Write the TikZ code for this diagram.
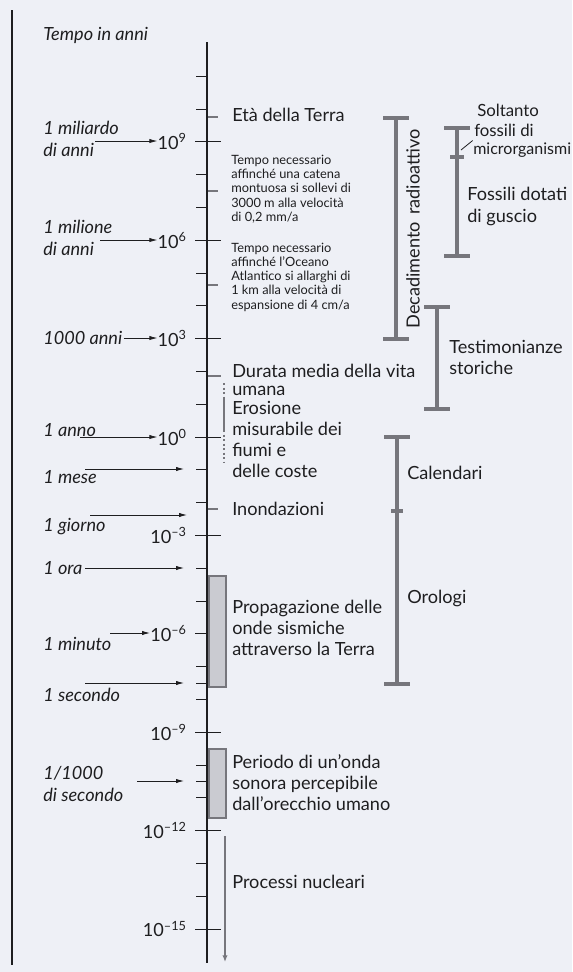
\documentclass[tikz,border=0pt]{standalone}
\usepackage{fontspec}
\setmainfont{Lato}
\usetikzlibrary{arrows.meta}

\definecolor{paper}{RGB}{238,240,246}
\definecolor{ink}{RGB}{30,30,32}
\definecolor{bar}{RGB}{118,118,124}
\definecolor{stipple}{RGB}{202,203,209}

\tikzset{
        txt/.style={anchor=west, inner sep=0pt, align=left, text=ink,
                font=\fontsize{13.6}{15.75}\selectfont},
        smalltxt/.style={anchor=west, inner sep=0pt, align=left, text=ink,
                font=\fontsize{9.6}{10.7}\selectfont},
        unit/.style={anchor=west, inner sep=0pt, align=left, text=ink,
                font=\fontsize{13.6}{16}\selectfont\itshape},
        pow/.style={anchor=east, inner sep=0pt, text=ink,
                font=\fontsize{13.6}{14}\selectfont},
        pointer/.style={draw=ink, line width=0.6pt, -{Latex[length=6pt,width=3.2pt]}},
        tick/.style={draw=ink, line width=0.75pt},
        gtick/.style={draw=bar, line width=1.5pt},
        span/.style={draw=bar, line width=2.3pt},
        band/.style={draw=bar, fill=stipple, line width=1.5pt},
}

\begin{document}
\begin{tikzpicture}[x=0.75pt, y=-0.75pt]
        \fill[paper] (0,0) rectangle (572,972);
        \draw[ink, line width=1pt] (12,10) -- (12,965);

        % asse dei tempi
        \draw[ink, line width=1.1pt] (207,42) -- (207,963);
        \foreach \e in {11,10,8,7,5,4,2,1,-1,-2,-4,-5,-7,-8,-10,-11,-13,-14}
                \draw[tick] (196,{437-32.8*\e}) -- (207,{437-32.8*\e});
        \foreach \e/\s/\n in {9/9/p9, 6/6/p6, 3/3/p3, 0/0/p0, -3/{–3}/pm3, -6/{–6}/pm6, -9/{–9}/pm9, -12/{–12}/pm12, -15/{–15}/pm15} {
                \draw[tick] (195,{437-32.8*\e}) -- (221,{437-32.8*\e});
                \node[pow] (\n) at (187,{437-32.8*\e}) {10\textsuperscript{\s}};
        }
        \draw[tick] (196,683) -- (207,683);
        \draw[tick] (196,781) -- (207,781);

        % unita di misura
        \node[unit] (tempo) at (43,35) {Tempo in anni};
        \node[unit] (mil) at (43,139) {1 miliardo\\di anni};
        \node[unit] (mln) at (43,238) {1 milione\\di anni};
        \node[unit] (mille) at (43,338) {1000 anni};
        \node[unit] (anno) at (43,430) {1 anno};
        \node[unit] (mese) at (43,477) {1 mese};
        \node[unit] (giorno) at (43,527) {1 giorno};
        \node[unit] (ora) at (43,568) {1 ora};
        \node[unit] (minuto) at (43,644) {1 minuto};
        \node[unit] (secondo) at (43,695) {1 secondo};
        \node[unit] (msec) at (43,784) {1/1000\\di secondo};

        \coordinate (amil) at (95,141);
        \coordinate (amln) at (100,240);
        \coordinate (aanno) at (80,437);
        \coordinate (amese) at (85,469);
        \coordinate (tmese) at (184,469);
        \coordinate (agiorno) at (90,515);
        \coordinate (tgiorno) at (187,515);
        \coordinate (tora) at (184,568);
        \coordinate (aminuto) at (110,633);
        \coordinate (asec) at (85,683);
        \coordinate (tsec) at (184,683);
        \coordinate (amsec) at (137,781);
        \coordinate (tmsec) at (184,781);

        \draw[pointer] (amil) -- (amil -| p9.west);
        \draw[pointer] (amln) -- (amln -| p6.west);
        \draw[pointer] ([xshift=1pt]mille.east) -- (mille.east -| p3.west);
        \draw[pointer] (aanno) -- (aanno -| p0.west);
        \draw[pointer] (amese) -- (tmese);
        \draw[pointer] (agiorno) -- (tgiorno);
        \draw[pointer] ([xshift=2pt]ora.east |- tora) -- (tora);
        \draw[pointer] (aminuto) -- (aminuto -| pm6.west);
        \draw[pointer] (asec) -- (tsec);
        \draw[pointer] (amsec) -- (tmsec);

        % fenomeni
        \node[txt] (eta) at (232,115) {Età della Terra};
        \node[smalltxt] (monti) at (231,189) {Tempo necessario\\affinché una catena\\montuosa si sollevi di\\3000 m alla velocità\\di 0,2 mm/a};
        \node[smalltxt] (oceano) at (231,277) {Tempo necessario\\affinché l’Oceano\\Atlantico si allarghi di\\1 km alla velocità di\\espansione di 4 cm/a};
        \node[txt, font=\fontsize{13.6}{13.6}\selectfont] (vita) at (232,380) {Durata media della vita\\umana};
        \node[txt] (erosione) at (232,439) {Erosione\\misurabile dei\\fiumi e\\delle coste};
        \node[txt] (inond) at (232,509) {Inondazioni};
        \node[txt] (onde) at (232,628) {Propagazione delle\\onde sismiche\\attraverso la Terra};
        \node[txt] (suono) at (232,783) {Periodo di un’onda\\sonora percepibile\\dall’orecchio umano};
        \node[txt] (nucl) at (232,882) {Processi nucleari};

        \draw[gtick] (208,117) -- (218,117);
        \draw[gtick] (208,191) -- (218,191);
        \draw[gtick] (208,285) -- (218,285);
        \draw[gtick] (208,376) -- (221,376);
        \draw[gtick] (208,509) -- (218,509);

        \draw[bar, line width=2.2pt, dash pattern=on 1.6pt off 1.8pt] (224,383) -- (224,397);
        \draw[bar, line width=2.2pt] (224,397) -- (224,430);
        \draw[bar, line width=2.2pt, dash pattern=on 1.6pt off 1.8pt] (224,430) -- (224,463);

        \draw[band] (209,576) rectangle (226,687);
        \draw[band] (209,749) rectangle (226,818);

        \coordinate (ntop) at (225,836);
        \coordinate (nbot) at (225,962);
        \draw[bar, line width=2pt, -{Latex[length=5pt,width=4pt]}] (ntop) -- (nbot);

        % metodi di datazione
        \foreach \n/\x/\a/\b in {dec/396/118/339, fos/457/128/256, sto/437/307/409, cal/397/437/684} {
                \coordinate (\n top) at (\x,\a);
                \coordinate (\n bot) at (\x,\b);
                \draw[span] (\n top) -- (\n bot);
                \draw[span] ([xshift=-9.5pt]\n top) -- ([xshift=9.5pt]\n top);
                \draw[span] ([xshift=-9.5pt]\n bot) -- ([xshift=9.5pt]\n bot);
        }
        \draw[span] (450,157) -- (464,157);
        \draw[span] (391,511) -- (403,511);

        \node[txt, rotate=90, anchor=center] (decad) at (413,229) {Decadimento\hspace{2pt} radioattivo};
        \node[txt, font=\fontsize{12.6}{15}\selectfont] (solt) at (477,110) {Soltanto};
        \node[txt, font=\fontsize{12.6}{15}\selectfont] (fosl) at (474,130) {fossili di};
        \node[txt, font=\fontsize{12}{15}\selectfont] (micro) at (473,150) {microrganismi};
        \node[txt, font=\fontsize{13.6}{16.5}\selectfont] (guscio) at (467,206) {Fossili dotati\\di guscio};
        \node[txt] (storia) at (449,357) {Testimonianze\\storiche};
        \node[txt] (calend) at (407,473) {Calendari};
        \node[txt] (orol) at (407,598) {Orologi};

        \coordinate (leader) at (461,150);
        \draw[ink, line width=0.6pt] (leader) -- ([shift={(-1pt,-3pt)}]fosl.south west);
\end{tikzpicture}
\end{document}
